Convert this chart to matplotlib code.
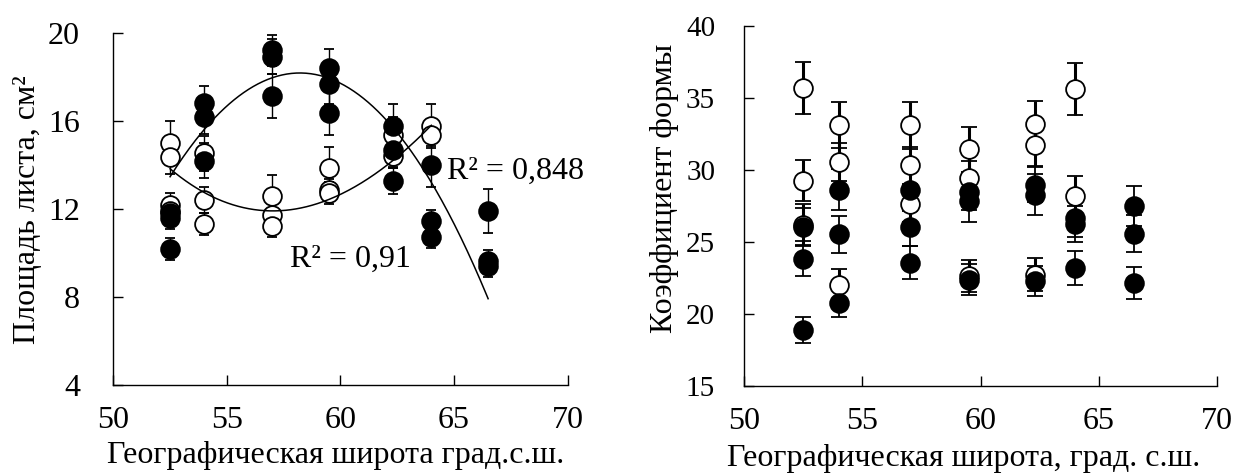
import numpy as np
import matplotlib
matplotlib.use("Agg")
import matplotlib.pyplot as plt

plt.rcParams['font.family'] = ['Liberation Serif', 'DejaVu Serif']

# latitude of the sampling sites, град. с.ш.
lat = [52.5, 54, 57, 59.5, 62.3, 64, 66.5]

# left panel: leaf area, cm2 (open / filled markers)
area_open_x = [52.5, 52.5, 52.5, 52.5, 54, 54, 54, 57, 57, 57,
               59.5, 59.5, 59.5, 62.3, 62.3, 64, 64]
area_open_y = [15.03, 14.39, 12.2, 11.9, 14.55, 12.43, 11.34, 12.61, 11.75, 11.22,
               13.87, 12.85, 12.73, 15.38, 14.4, 15.78, 15.38]
area_open_err = [1.0, 0.8, 0.55, 0.5, 0.8, 0.6, 0.5, 0.95, 0.5, 0.5,
                 0.95, 0.5, 0.5, 0.8, 0.5, 1.0, 0.5]

area_fill_x = [52.5, 52.5, 52.5, 54, 54, 54, 57, 57, 57, 59.5, 59.5, 59.5,
               62.3, 62.3, 62.3, 64, 64, 64, 66.5, 66.5, 66.5]
area_fill_y = [11.84, 11.6, 10.2, 16.81, 16.21, 14.21, 19.23, 18.93, 17.14,
               18.4, 17.69, 16.39, 15.78, 14.67, 13.29, 14.02, 11.45, 10.74,
               11.9, 9.63, 9.41]
area_fill_err = [0.5, 0.5, 0.5, 0.8, 0.8, 0.8, 0.7, 0.8, 1.0, 0.9, 0.9, 1.0,
                 1.0, 0.8, 0.6, 1.0, 0.5, 0.5, 1.0, 0.5, 0.5]

# trend lines
trend_fill_x = [52.46, 53.93, 56.97, 58.18, 59.93, 62.25, 63.96, 66.43]
trend_fill_y = [13.37, 15.6, 17.95, 18.2, 17.72, 15.78, 13.34, 8.08]
trend_open_x = [52.46, 53.93, 57.4, 59.46, 59.93, 62.25, 63.96]
trend_open_y = [13.82, 12.88, 11.98, 12.28, 12.58, 14.39, 15.68]

# right panel: shape coefficient
shape_open_x = [52.5, 52.5, 52.5, 54, 54, 54, 57, 57, 57, 59.5, 59.5, 59.5,
                62.3, 62.3, 62.3, 64, 64]
shape_open_y = [35.67, 29.28, 26.23, 33.15, 30.58, 22.06, 33.1, 30.33, 27.62,
                31.44, 29.47, 22.64, 33.17, 31.72, 22.76, 35.6, 28.19]
shape_open_err = [1.8, 1.45, 1.4, 1.6, 1.3, 1.1, 1.6, 1.3, 1.2, 1.55, 1.2, 1.1,
                  1.65, 1.4, 1.15, 1.8, 1.4]

shape_fill_x = area_fill_x
shape_fill_y = [26.07, 23.87, 18.94, 28.66, 25.54, 20.79, 28.66, 26.07, 23.57,
                28.47, 27.85, 22.41, 29.0, 28.31, 22.29, 26.69, 26.3, 23.22,
                27.5, 25.6, 22.18]
shape_fill_err = [1.3, 1.2, 0.9, 1.4, 1.3, 1.0, 1.5, 1.35, 1.15, 1.2, 1.45, 1.1,
                  1.2, 1.45, 1.05, 1.3, 1.25, 1.15, 1.4, 1.3, 1.1]

FS = 23
fig = plt.figure(figsize=(12.34, 4.73), dpi=100)
ax1 = fig.add_axes([0.0918, 0.186, 0.3682, 0.7436])
ax2 = fig.add_axes([0.6032, 0.183, 0.3828, 0.762])


def style(ax, ypad, ysize):
    for s in ('top', 'right'):
        ax.spines[s].set_visible(False)
    for s in ('left', 'bottom'):
        ax.spines[s].set_linewidth(1.0)
    ax.tick_params(direction='in', length=7, width=1.0, labelsize=FS)
    ax.tick_params(axis='y', pad=ypad, labelsize=ysize)
    ax.tick_params(axis='x', pad=15)
    ax.set_xlim(50, 70)
    ax.set_xticks([50, 55, 60, 65, 70])


def points(ax, x, y, err, face, lw_bar, cap, capthick):
    ax.errorbar(x, y, yerr=err, fmt='o', ms=13.5, mfc=face, mec='black',
                mew=1.3, ecolor='black', elinewidth=lw_bar, capsize=cap,
                capthick=capthick, zorder=3)


# left panel
style(ax1, 24, FS)
points(ax1, area_open_x, area_open_y, area_open_err, 'white', 1.0, 3.5, 1.0)
points(ax1, area_fill_x, area_fill_y, area_fill_err, 'black', 1.0, 3.5, 1.0)

cf = np.polyfit(trend_fill_x, trend_fill_y, 3)
xf = np.linspace(lat[0], lat[-1], 200)
ax1.plot(xf, np.polyval(cf, xf), color='black', lw=1.1, zorder=4)
co = np.polyfit(trend_open_x, trend_open_y, 3)
xo = np.linspace(lat[0], lat[-2], 200)
ax1.plot(xo, np.polyval(co, xo), color='black', lw=1.1, zorder=4)

ax1.set_ylim(4, 20)
ax1.set_yticks([4, 8, 12, 16, 20])
ax1.text(64.67, 13.74, 'R² = 0,848', fontsize=FS, va='center', ha='left')
ax1.text(57.77, 9.73, 'R² = 0,91', fontsize=FS, va='center', ha='left')
ax1.set_ylabel('Площадь листа, см²', fontsize=FS)
ax1.set_xlabel('Географическая широта град.с.ш.', fontsize=FS)
ax1.yaxis.set_label_coords(-0.157, 0.5)
ax1.xaxis.set_label_coords(0.49, -0.16)

# right panel
style(ax2, 21, 21)
points(ax2, shape_open_x, shape_open_y, shape_open_err, 'white', 2.2, 5.5, 2.5)
points(ax2, shape_fill_x, shape_fill_y, shape_fill_err, 'black', 1.3, 5.5, 1.5)
ax2.set_ylim(15, 40)
ax2.set_yticks([15, 20, 25, 30, 35, 40])
ax2.set_ylabel('Коэффициент формы', fontsize=FS)
ax2.set_xlabel('Географическая широта, град. с.ш.', fontsize=FS)
ax2.yaxis.set_label_coords(-0.138, 0.55)
ax2.xaxis.set_label_coords(0.465, -0.16)

fig.savefig('out.png', dpi=100)
